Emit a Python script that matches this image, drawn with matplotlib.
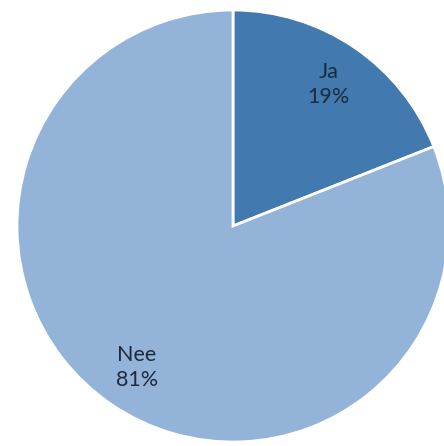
import numpy as np
import matplotlib
matplotlib.use("Agg")
import matplotlib.pyplot as plt

categories = ["Ja", "Nee"]
values = [19, 81]
colors = ["#4279AE", "#93B3D8"]

W, H = 444, 446
fig = plt.figure(figsize=(W / 100, H / 100), dpi=100)
ax = fig.add_axes([0, 0, 1, 1])

cx, cy, r = 233, H - 226, 216
wedges, _ = ax.pie(values, colors=colors, startangle=90, counterclock=False,
                   center=(cx, cy), radius=r, frame=True,
                   wedgeprops=dict(edgecolor="white", linewidth=2))
ax.set_xlim(0, W)
ax.set_ylim(0, H)
ax.set_aspect("equal")
ax.axis("off")

for w, c, v in zip(wedges, categories, values):
    mid = np.deg2rad((w.theta1 + w.theta2) / 2)
    d = 0.79 * r
    x = cx + d * np.cos(mid)
    y = cy + d * np.sin(mid)
    ax.text(x, y, f"{c}\n{v}%", ha="center", va="center", fontsize=15.5,
            family="Lato", color="#1C2B40", linespacing=1.3)

fig.savefig("out.png", dpi=100)
